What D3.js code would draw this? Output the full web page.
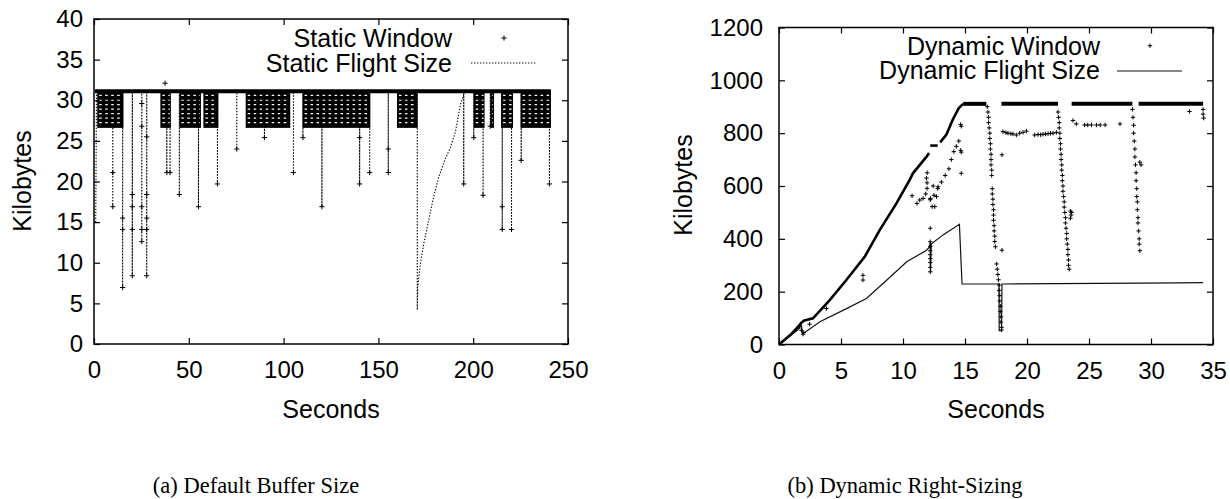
<!DOCTYPE html>
<html><head><meta charset="utf-8">
<script src="https://cdn.jsdelivr.net/npm/d3@7"></script>
<style>
body{margin:0;background:#fff}
svg text{font-family:"Liberation Sans",Arial,Helvetica,sans-serif;fill:#000}
</style>
</head><body>
<svg id="c" width="1230" height="499"></svg>
<script>
// ---------- (a) Default Buffer Size ----------
const staticXTicks = [0, 50, 100, 150, 200, 250];
const staticYTicks = [0, 5, 10, 15, 20, 25, 30, 35, 40];
const staticTopLevel = 31.1;
const staticTopRange = [0.5, 241];
const staticBandStart = [1.7, 35, 45, 57.7, 80, 110, 159.8, 200.3, 209, 214.7, 225];
const staticBandEnd   = [15.5, 40.5, 56.4, 65.6, 103.5, 145.7, 170.7, 206, 211, 221, 241];
const staticBandLow = 26.6;
const staticBandRows = [30.6, 30.0, 29.45, 28.9, 28.35, 27.8, 27.25];
const staticSpikeT = [9.9, 15.1, 20.2, 25.2, 27.8, 38.4, 40.1, 45, 55.1, 65.1, 75.3, 89.9, 105.2, 110.2, 120.2, 140.1, 145.4, 155.2, 195, 200.3, 205.2, 209, 215.3, 220.2, 225.3, 240.2];
const staticSpikeV = [[21.1,16.9],[15.5,14.1,6.95],[18.4,16.9,14.1,8.4],[29.6,26.8,16.9,14.1,12.6],[25.5,18.4,15.5,14.1,8.4],[21.1],[21.1],[18.4],[16.9],[19.7],[24.0],[25.4],[21.1],[25.4],[16.9],[25.4,19.7],[21.1],[24.0,21.1],[19.7],[25.4],[18.3],[26.8],[16.9,14.1],[14.1],[22.6],[19.7]];
const staticRampT = [170.5, 170.7, 172.1, 173.9, 176.5, 179.1, 181.8, 185.3, 188.0, 190.6, 193.2, 195];
const staticRampV = [4.2, 6.95, 9.8, 12.3, 15.2, 18.1, 20.5, 22.8, 24.2, 26.1, 29.4, 30.7];
const staticStartT = [0.9, 1.3];
const staticStartV = [15, 31];
const staticExtraT = [37.5];
const staticExtraV = [32.1];

// ---------- (b) Dynamic Right-Sizing ----------
const dynXTicks = [0, 5, 10, 15, 20, 25, 30, 35];
const dynYTicks = [0, 200, 400, 600, 800, 1000, 1200];
const dynFlightT = [0, 1.5, 1.8, 1.9, 2.1, 3.3, 5.2, 7.05, 8.7, 10.3, 11.9, 12.15, 12.2, 12.22, 12.28, 13.2, 14.55, 14.76, 17.74, 17.76, 17.95, 17.98, 32.3, 34.2];
const dynFlightV = [0, 55, 75, 42, 46, 86, 130, 174, 244, 313, 357, 370, 389, 275, 380, 414, 455, 229, 229, 52, 52, 229, 233, 234];
// dense runs of window samples (drawn as thick runs of markers)
const dynRunT = [
  [0, 0.5, 1.0, 1.6, 1.75, 2.0, 2.74, 4.09, 5.43, 6.91, 8.12, 9.47, 10.54, 10.8, 11.9, 12.1],
  [12.2, 12.8],
  [13.0, 13.5, 14.0, 14.5, 14.85],
  [14.85, 16.72],
  [17.94, 22.5],
  [23.6, 28.5],
  [29.0, 34.2]
];
const dynRunV = [
  [0, 20, 40, 70, 80, 90, 99, 168, 244, 332, 433, 534, 623, 648, 711, 725],
  [753, 753],
  [765, 795, 850, 895, 911],
  [911, 911],
  [911, 911],
  [911, 911],
  [911, 911]
];
// individual window samples
const dynWinT = [
  1.67, 1.8, 1.94, 2.0, 2.47, 3.82, 6.77, 6.77,
  10.73, 11.13, 11.35, 11.62, 11.83, 11.94, 11.94, 11.9, 11.95, 12.21, 12.35, 12.56, 12.43, 12.7, 12.83,
  12.2, 12.5, 12.8, 13.1, 13.4, 13.7, 13.9, 14.1, 14.3, 14.5,
  12.2, 12.2, 12.2, 12.2, 12.2, 12.2, 12.2, 12.2, 12.2,
  14.65, 14.7, 14.65, 14.7, 14.7,
  16.8, 16.85, 16.9, 16.9, 16.95, 17.0, 17.0, 17.05, 17.05, 17.1, 17.1, 17.1, 17.15, 17.15,
  17.2, 17.2, 17.25, 17.25, 17.3, 17.3, 17.3, 17.35, 17.35, 17.4, 17.4, 17.45, 17.98,
  17.55, 17.6, 17.65, 17.7, 17.75, 17.75, 17.8, 17.8, 17.85, 17.85, 17.9, 17.9, 17.95, 17.95,
  17.98,
  18.06, 18.3, 18.47, 18.7, 18.87, 19.14, 19.41, 19.68, 19.95, 20.62, 20.89, 21.1, 21.29, 21.5, 21.7, 21.9, 22.1, 22.37,
  22.5, 22.55, 22.6, 22.6, 22.65, 22.65, 22.7, 22.7, 22.75, 22.75, 22.8, 22.8, 22.85, 22.85, 22.9, 22.9, 22.95, 23.0, 23.0, 23.05, 23.1, 23.1, 23.15, 23.2, 23.2, 23.25, 23.3, 23.3, 23.35, 23.35, 23.4,
  23.5, 23.55, 23.5, 23.6,
  23.71, 23.98, 24.65, 24.9, 25.2, 25.6, 25.9, 26.3, 27.5,
  28.5, 28.55, 28.6, 28.6, 28.65, 28.7, 28.7, 28.75, 28.8, 28.8, 28.85, 28.85, 28.9, 28.9, 28.95, 28.95, 29.0, 29.05, 29.05, 29.1,
  29.2, 29.1,
  33.1, 34.2, 34.2, 34.25
];
const dynWinV = [
  67, 54, 39, 45, 77, 136, 262, 244,
  563, 534, 547, 553, 570, 591, 612, 630, 650, 553, 522, 522, 600, 560, 597,
  548, 565, 590, 615, 640, 665, 700, 730, 750, 770,
  440, 389, 372, 355, 340, 325, 310, 292, 275,
  833, 826, 735, 728, 648,
  900, 880, 860, 840, 820, 800, 780, 760, 740, 720, 700, 680, 660, 640,
  590, 570, 550, 530, 510, 490, 470, 450, 430, 410, 390, 370, 357,
  305, 285, 265, 245, 225, 205, 185, 165, 145, 125, 105, 85, 65, 55,
  718,
  806, 802, 800, 798, 797, 793, 800, 803, 808, 793, 795, 794, 796, 797, 798, 799, 800, 803,
  880, 860, 840, 820, 800, 780, 760, 740, 720, 700, 680, 660, 640, 620, 600, 580, 560, 540, 520, 500, 480, 460, 440, 420, 400, 380, 360, 340, 320, 300, 285,
  505, 490, 478, 500,
  848, 835, 831, 831, 831, 831, 831, 831, 835,
  890, 860, 830, 800, 770, 740, 710, 680, 650, 620, 590, 560, 540, 510, 480, 460, 430, 400, 380, 355,
  680, 690,
  882, 890, 872, 857
];

// ---------- drawing ----------
const svg = d3.select("#c");
const FS_TICK = 24, FS_LAB = 25, FS_KEY = 25;

function plusPath(x, y, r) {
  return `M${x - r},${y}H${x + r}M${x},${y - r}V${y + r}`;
}

function frame(g, x, y, xTicks, yTicks, yPad) {
  const [x0, x1] = x.range(), [y0, y1] = y.range();
  const bottom = g.append("g").attr("transform", `translate(0,${y0})`)
    .call(d3.axisBottom(x).tickValues(xTicks).tickSizeInner(-6).tickSizeOuter(0).tickPadding(17).tickFormat(d3.format("d")));
  const top = g.append("g").attr("transform", `translate(0,${y1})`)
    .call(d3.axisTop(x).tickValues(xTicks).tickSizeInner(-6).tickSizeOuter(0).tickFormat(""));
  const left = g.append("g").attr("transform", `translate(${x0},0)`)
    .call(d3.axisLeft(y).tickValues(yTicks).tickSizeInner(-6).tickSizeOuter(0).tickPadding(yPad).tickFormat(d3.format("d")));
  const right = g.append("g").attr("transform", `translate(${x1},0)`)
    .call(d3.axisRight(y).tickValues(yTicks).tickSizeInner(-6).tickSizeOuter(0).tickFormat(""));
  [bottom, top, left, right].forEach(a => {
    a.select(".domain").remove();
    a.selectAll("line").attr("stroke", "#000").attr("stroke-width", 1.2);
    a.selectAll("text").attr("font-size", FS_TICK).attr("font-family", "Liberation Sans, Arial, sans-serif");
  });
  g.append("rect").attr("x", x0).attr("y", y1).attr("width", x1 - x0).attr("height", y0 - y1)
    .attr("fill", "none").attr("stroke", "#000").attr("stroke-width", 1.5);
}

function labels(g, cx, cy, kx, ky, caption, capx) {
  g.append("text").attr("x", cx).attr("y", cy).attr("text-anchor", "middle").attr("font-size", FS_LAB).text("Seconds");
  g.append("text").attr("transform", `translate(${kx},${ky}) rotate(-90)`).attr("text-anchor", "middle")
    .attr("dy", "0.35em").attr("font-size", FS_LAB).text("Kilobytes");
  g.append("text").attr("x", capx).attr("y", 493).attr("text-anchor", "middle")
    .style("font-family", "'Liberation Serif','DejaVu Serif',serif").attr("font-size", 22.5).text(caption);
}

// ===== chart (a) =====
{
  const g = svg.append("g");
  const x = d3.scaleLinear().domain([0, 250]).range([94, 568]);
  const y = d3.scaleLinear().domain([0, 40]).range([344, 19]);

  // flight size (dotted): top level with drops at each spike, plus the slow recovery ramp
  const fl = [];
  fl.push(...staticStartT.map((t, i) => [t, staticStartV[i]]));
  const spikes = staticSpikeT.map((t, i) => ({ t, v: staticSpikeV[i] }));
  let rampDone = false;
  spikes.forEach(s => {
    if (!rampDone && s.t > staticRampT[0]) {
      fl.push([staticRampT[0], staticTopLevel]);
      staticRampT.forEach((t, i) => fl.push([t, staticRampV[i]]));
      rampDone = true;
    }
    const m = d3.min(s.v);
    fl.push([s.t, staticTopLevel], [s.t, m], [s.t + 0.05, staticTopLevel]);
  });
  fl.push([staticTopRange[1], staticTopLevel]);
  const line = d3.line().x(d => x(d[0])).y(d => y(d[1]));
  g.append("path").attr("d", line(fl)).attr("fill", "none").attr("stroke", "#000")
    .attr("stroke-width", 1.1).attr("stroke-dasharray", "1.3,1.7");

  // bands of window oscillation
  staticBandStart.forEach((s, i) => {
    const e = staticBandEnd[i];
    g.append("rect").attr("x", x(s)).attr("width", x(e) - x(s))
      .attr("y", y(staticTopLevel)).attr("height", y(staticBandLow) - y(staticTopLevel)).attr("fill", "#000");
    staticBandRows.forEach(r => {
      g.append("line").attr("x1", x(s) + 2).attr("x2", x(e) - 1).attr("y1", y(r)).attr("y2", y(r))
        .attr("stroke", "#fff").attr("stroke-width", 1.2).attr("stroke-dasharray", "2.5,3.5");
    });
  });
  // top run of window at max
  g.append("line").attr("x1", x(staticTopRange[0])).attr("x2", x(staticTopRange[1]))
    .attr("y1", y(staticTopLevel)).attr("y2", y(staticTopLevel)).attr("stroke", "#000").attr("stroke-width", 4);

  // window markers
  let d = "";
  spikes.forEach(s => s.v.forEach(v => { d += plusPath(x(s.t), y(v), 2.6); }));
  staticExtraT.forEach((t, i) => { d += plusPath(x(t), y(staticExtraV[i]), 2.6); });
  g.append("path").attr("d", d).attr("stroke", "#000").attr("stroke-width", 1).attr("fill", "none");

  frame(g, x, y, staticXTicks, staticYTicks, 11);
  labels(g, 331, 418, 22, 181, "(a) Default Buffer Size", 256);

  // legend
  g.append("text").attr("x", 452).attr("y", 46.5).attr("text-anchor", "end").attr("font-size", FS_KEY).text("Static Window");
  g.append("text").attr("x", 452).attr("y", 71.5).attr("text-anchor", "end").attr("font-size", FS_KEY).text("Static Flight Size");
  g.append("path").attr("d", plusPath(504, 38, 2.6)).attr("stroke", "#000").attr("stroke-width", 1);
  g.append("line").attr("x1", 471).attr("x2", 537).attr("y1", 63).attr("y2", 63).attr("stroke", "#000")
    .attr("stroke-width", 1.1).attr("stroke-dasharray", "1.3,1.7");
}

// ===== chart (b) =====
{
  const g = svg.append("g");
  const x = d3.scaleLinear().domain([0, 35]).range([779, 1213]);
  const y = d3.scaleLinear().domain([0, 1200]).range([344.5, 27.5]);
  const line = d3.line().x(d => x(d[0])).y(d => y(d[1]));

  // dense runs
  dynRunT.forEach((ts, k) => {
    const pts = ts.map((t, i) => [t, dynRunV[k][i]]);
    const flat = pts[0][1] === pts[pts.length - 1][1] && pts[0][1] > 900;
    g.append("path").attr("d", line(pts)).attr("fill", "none").attr("stroke", "#000")
      .attr("stroke-width", flat ? 4 : 2.6).attr("stroke-linecap", "butt");
  });
  // flight size
  const fp = dynFlightT.map((t, i) => [t, dynFlightV[i]]);
  g.append("path").attr("d", line(fp)).attr("fill", "none").attr("stroke", "#111").attr("stroke-width", 1.2);

  // window markers
  let d = "";
  dynWinT.forEach((t, i) => { d += plusPath(x(t), y(dynWinV[i]), 2.2); });
  g.append("path").attr("d", d).attr("stroke", "#000").attr("stroke-width", 1).attr("fill", "none");

  frame(g, x, y, dynXTicks, dynYTicks, 16);
  labels(g, 996, 418, 683, 185, "(b) Dynamic Right-Sizing", 905);

  g.append("text").attr("x", 1100).attr("y", 55).attr("text-anchor", "end").attr("font-size", FS_KEY).text("Dynamic Window");
  g.append("text").attr("x", 1100).attr("y", 79).attr("text-anchor", "end").attr("font-size", FS_KEY).text("Dynamic Flight Size");
  g.append("path").attr("d", plusPath(1150, 45.7, 2.2)).attr("stroke", "#000").attr("stroke-width", 1);
  g.append("line").attr("x1", 1117).attr("x2", 1182).attr("y1", 71).attr("y2", 71).attr("stroke", "#111").attr("stroke-width", 1.2);
}
</script>
</body></html>
